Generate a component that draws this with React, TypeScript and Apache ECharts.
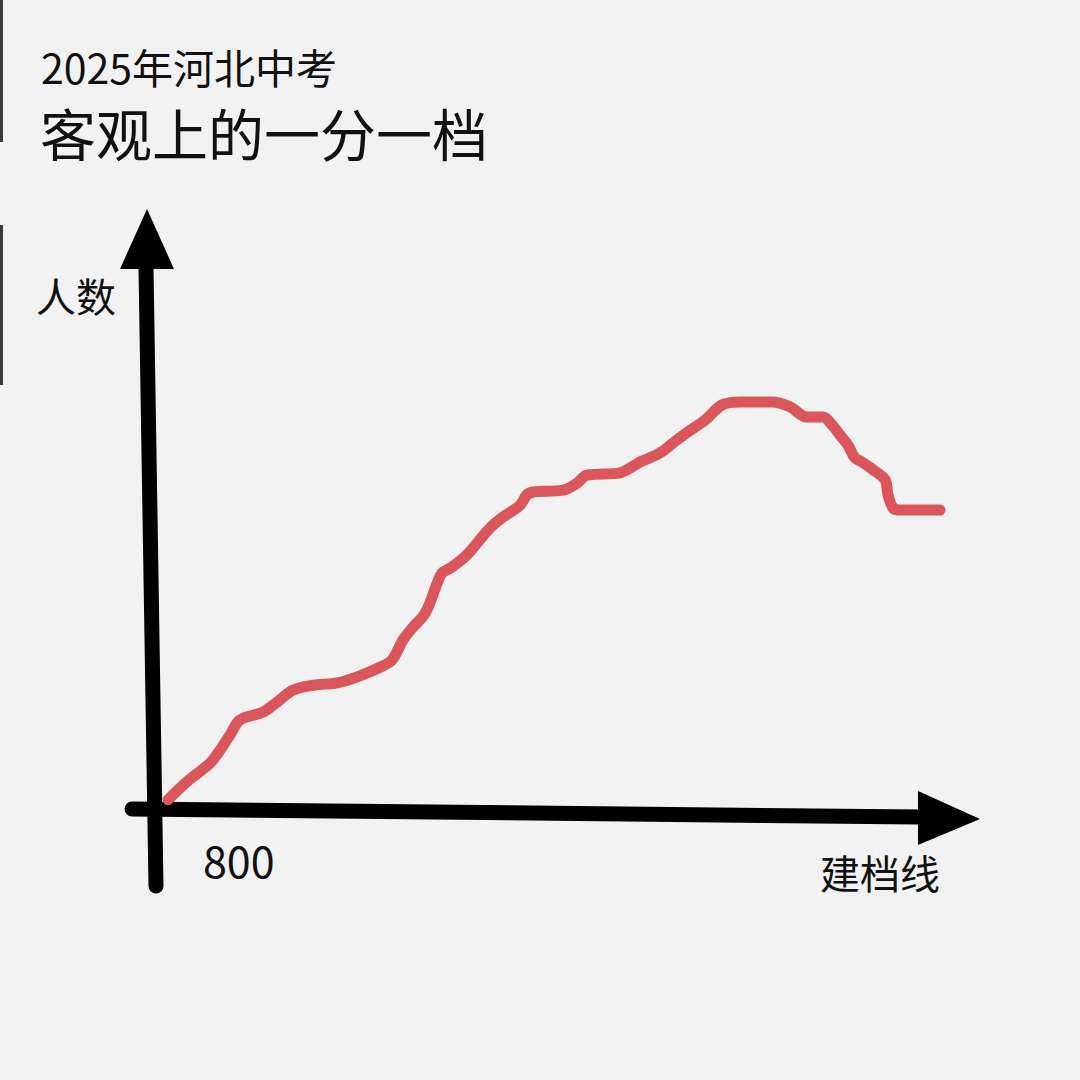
import React, { useEffect, useRef } from 'react';
import * as echarts from 'echarts';

// Texts
const titleLines = ['2025年河北中考', '客观上的一分一档'];
const yAxisName = '人数';
const xAxisName = '建档线';
const xTickLabels = ['800'];

// Hand-drawn curve (relative units: x 0-100, y 0-100)
const scoreX = [
  2.25, 4.6, 7.5, 8.5, 10, 11.25, 14.1, 15.9, 17.9, 20.4, 23.4, 25.9, 28.75, 30.25,
  31.6, 32.9, 34.4, 35.9, 36.5, 37.75, 39.6, 40.9, 42.5, 44.1, 46.25, 47.1, 47.9,
  51.6, 53.4, 54.6, 58.75, 60.25, 61.25, 63.75, 65.4, 67, 69.4, 71.5, 73.75, 77.75,
  80, 82.1, 84.1, 85.25, 86.25, 87.25, 88.1, 89, 90.4, 91.9, 92.25, 92.9, 93.75, 98.75,
];
const countY = [
  1.7, 4.7, 7.8, 9.5, 12.5, 15, 16.3, 18, 20, 20.8, 21.2, 22.2, 23.8, 25,
  28.3, 30.5, 32.8, 37.8, 39.5, 40.5, 42.5, 44.5, 47, 48.8, 50.8, 52.5, 53,
  53.3, 54.5, 55.8, 56.2, 57.2, 58, 59.5, 61.2, 62.8, 65, 67.5, 68, 68,
  67.2, 65.5, 65.5, 64.2, 62.5, 60.8, 58.7, 58, 56.7, 55, 52.5, 50.3, 50, 50,
];

const FONT = '"Noto Sans CJK SC", "Noto Sans", sans-serif';
const INK = '#111111';

export default function App() {
  const ref = useRef<HTMLDivElement>(null);

  useEffect(() => {
    if (!ref.current) return;
    const chart = echarts.init(ref.current, undefined, { renderer: 'svg' });
    const data = scoreX.map((x, i) => [x, countY[i]]);

    chart.setOption({
      animation: false,
      backgroundColor: '#f2f2f2',
      grid: { left: 150, top: 210, width: 800, height: 600, containLabel: false },
      xAxis: { type: 'value', min: 0, max: 100, show: false },
      yAxis: { type: 'value', min: 0, max: 100, show: false },
      series: [
        {
          type: 'line',
          data,
          smooth: 0.35,
          showSymbol: false,
          lineStyle: { color: '#d9575c', width: 11, cap: 'round', join: 'round' },
          z: 5,
        },
      ],
      graphic: [
        // scan artefacts on the left edge
        { type: 'rect', shape: { x: 0, y: 0, width: 3, height: 142 }, style: { fill: '#3a3a3a' } },
        { type: 'rect', shape: { x: 0, y: 225, width: 3, height: 160 }, style: { fill: '#3a3a3a' } },
        // title
        {
          type: 'text', x: 41, y: 66,
          style: { text: titleLines[0], font: `41px ${FONT}`, lineHeight: 41, fill: INK, verticalAlign: 'middle', align: 'left' },
        },
        {
          type: 'text', x: 40, y: 131,
          style: { text: titleLines[1], font: `56px ${FONT}`, lineHeight: 56, fill: INK, verticalAlign: 'middle', align: 'left' },
        },
        // y axis (hand drawn)
        {
          type: 'line', shape: { x1: 146, y1: 268, x2: 156, y2: 886 },
          style: { stroke: '#000', lineWidth: 15, lineCap: 'round' }, z: 3,
        },
        {
          type: 'polygon', shape: { points: [[147, 209], [120, 269], [174, 269]] },
          style: { fill: '#000' }, z: 3,
        },
        // x axis (hand drawn)
        {
          type: 'line', shape: { x1: 132, y1: 809, x2: 920, y2: 817 },
          style: { stroke: '#000', lineWidth: 15, lineCap: 'round' }, z: 3,
        },
        {
          type: 'polygon', shape: { points: [[918, 791], [918, 845], [980, 819]] },
          style: { fill: '#000' }, z: 3,
        },
        // axis names and tick label
        {
          type: 'text', x: 36, y: 295,
          style: { text: yAxisName, font: `40px ${FONT}`, lineHeight: 40, fill: INK, verticalAlign: 'middle', align: 'left' },
        },
        {
          type: 'text', x: 203, y: 859,
          style: { text: xTickLabels[0], font: `43px ${FONT}`, lineHeight: 43, fill: INK, verticalAlign: 'middle', align: 'left' },
        },
        {
          type: 'text', x: 820, y: 872,
          style: { text: xAxisName, font: `40px ${FONT}`, lineHeight: 40, fill: INK, verticalAlign: 'middle', align: 'left' },
        },
      ],
    });

    return () => chart.dispose();
  }, []);

  return (
    <div
      ref={ref}
      style={{ position: 'absolute', left: 0, top: 0, width: 1080, height: 1080 }}
    />
  );
}
